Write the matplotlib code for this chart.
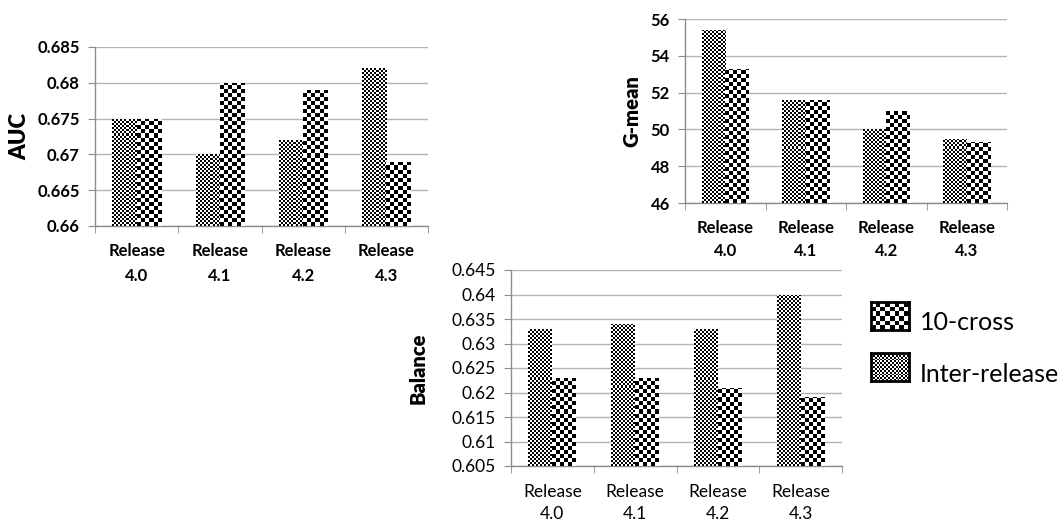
import numpy as np
import matplotlib
matplotlib.use("Agg")
import matplotlib.pyplot as plt
from matplotlib.ticker import FixedLocator, FuncFormatter

# ---------------- data ----------------
releases = ["Release\n4.0", "Release\n4.1", "Release\n4.2", "Release\n4.3"]
series_names = ["10-cross", "Inter-release"]

auc_first = [0.675, 0.670, 0.672, 0.682]
auc_second = [0.675, 0.680, 0.679, 0.669]

gmean_first = [55.4, 51.6, 50.0, 49.5]
gmean_second = [53.3, 51.6, 51.0, 49.3]

balance_first = [0.633, 0.634, 0.633, 0.640]
balance_second = [0.623, 0.623, 0.621, 0.619]

auc_ticks = [0.66, 0.665, 0.67, 0.675, 0.68, 0.685]
gmean_ticks = [46, 48, 50, 52, 54, 56]
balance_ticks = [0.605, 0.61, 0.615, 0.62, 0.625, 0.63, 0.635, 0.64, 0.645]

# ---------------- style ----------------
FONT = ["Lato", "DejaVu Sans"]
plt.rcParams["font.family"] = FONT
GRID = "#b4b4b4"
AXIS = "#8c8c8c"
FINE = 2
COARSE = 4

W, H = 1063, 521
fig = plt.figure(figsize=(W / 100, H / 100), dpi=100)


def rect_px(l, t, r, b):
    return [l / W, 1 - b / H, (r - l) / W, (b - t) / H]


def checker_array(ny, nx):
    return np.add.outer(np.arange(ny), np.arange(nx)) % 2


def checker_fill(ax, patch, cell):
    x0, y0 = patch.get_x(), patch.get_y()
    w, h = patch.get_width(), patch.get_height()
    p0 = ax.transData.transform((x0, y0))
    p1 = ax.transData.transform((x0 + w, y0 + h))
    nx = int(np.ceil((p1[0] - p0[0]) / cell)) + 1
    ny = int(np.ceil((p1[1] - p0[1]) / cell)) + 1
    e1 = ax.transData.inverted().transform((p0[0] + nx * cell, p0[1] + ny * cell))
    im = ax.imshow(checker_array(ny, nx), cmap="gray", vmin=0, vmax=1,
                   extent=(x0, e1[0], y0, e1[1]), origin="lower",
                   interpolation="nearest", aspect="auto", zorder=3)
    im.set_clip_path(patch)


def panel(rect, first, second, ticks, ylabel, label_x, label_size,
          bold, tick_fs, bar_w, xpad, linesp):
    ax = fig.add_axes(rect)
    x = np.arange(len(releases))
    ymin, ymax = ticks[0], ticks[-1]
    ax.set_xlim(-0.5, len(releases) - 0.5)
    ax.set_ylim(ymin, ymax)
    ax.set_autoscale_on(False)
    b1 = ax.bar(x - bar_w / 2, np.array(first) - ymin, bar_w, bottom=ymin,
                color="white", lw=0, zorder=2)
    b2 = ax.bar(x + bar_w / 2, np.array(second) - ymin, bar_w, bottom=ymin,
                color="white", lw=0, zorder=2)
    for p in b1.patches:
        checker_fill(ax, p, FINE)
    for p in b2.patches:
        checker_fill(ax, p, COARSE)
    ax.set_xlim(-0.5, len(releases) - 0.5)
    ax.set_ylim(ymin, ymax)

    weight = "bold" if bold else "normal"
    ax.yaxis.set_major_locator(FixedLocator(ticks))
    ax.yaxis.set_major_formatter(FuncFormatter(lambda v, p: "%g" % round(v, 4)))
    ax.grid(axis="y", color=GRID, lw=1, zorder=0)
    ax.set_axisbelow(True)
    for s in ["top", "right"]:
        ax.spines[s].set_visible(False)
    for s in ["left", "bottom"]:
        ax.spines[s].set_color(AXIS)
        ax.spines[s].set_linewidth(1)
    ax.tick_params(axis="y", length=5, color=AXIS, pad=6, labelsize=tick_fs)
    ax.set_xticks(x)
    ax.set_xticklabels(releases, fontsize=tick_fs, fontweight=weight,
                       linespacing=linesp)
    ax.set_xticks(np.arange(-0.5, len(releases)), minor=True)
    ax.tick_params(axis="x", which="major", length=0, pad=xpad)
    ax.tick_params(axis="x", which="minor", length=5, color=AXIS)
    for t in ax.get_yticklabels():
        t.set_fontweight(weight)
    ax.set_ylabel(ylabel, fontsize=label_size, fontweight="heavy",
                  va="center")
    ax.yaxis.set_label_coords(label_x, 0.5)
    return ax


panel(rect_px(95, 47, 428, 226), auc_first, auc_second, auc_ticks, "AUC",
      (20 - 95) / 333, 16, True, 12, 0.29, 12, 1.7)
panel(rect_px(685, 19, 1007, 203), gmean_first, gmean_second, gmean_ticks,
      "G-mean", (632 - 685) / 322, 14.5, True, 12, 0.29, 12, 1.6)
panel(rect_px(511, 270, 842, 466), balance_first, balance_second,
      balance_ticks, "Balance", (418 - 511) / 331, 14.5, False, 12.5, 0.29,
      13, 1.45)

# ---------------- legend ----------------
leg_cells = [5, 2]
leg_tops = [302, 353]
for name, cell, top in zip(series_names, leg_cells, leg_tops):
    lax = fig.add_axes(rect_px(871, top, 909, top + 28))
    lax.imshow(checker_array(28 // cell + 1, 38 // cell + 1), cmap="gray",
               vmin=0, vmax=1, interpolation="nearest", aspect="auto",
               origin="lower")
    lax.set_xticks([])
    lax.set_yticks([])
    for s in lax.spines.values():
        s.set_linewidth(2)
        s.set_color("black")
    fig.text(920 / W, 1 - (top + 21) / H, name, fontsize=18,
             va="center", ha="left")

fig.savefig("out.png", dpi=100)
